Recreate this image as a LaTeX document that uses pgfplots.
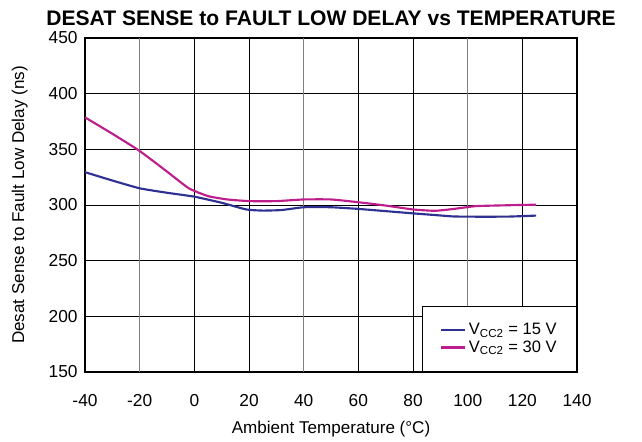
\documentclass[border=0pt]{standalone}
\usepackage{pgfplots}
\pgfplotsset{compat=1.18}
\usepackage{fontspec}
\setmainfont{Liberation Sans}
\definecolor{tiblue}{RGB}{46,49,146}
\definecolor{timag}{RGB}{190,30,140}
\begin{document}
\begin{tikzpicture}
\begin{axis}[
  scale only axis,
  width=369pt, height=250.5pt,
  xmin=-40, xmax=140, ymin=150, ymax=450,
  xtick={-40,0,20,60,80,120,140},
  extra x ticks={-20,40,100},
  extra x tick style={grid=major, major grid style={black!50, line width=0.7pt}},
  ytick={150,200,...,450},
  grid=major,
  major grid style={black, line width=0.55pt},
  major tick length=0pt,
  axis line style={black, line width=1.3pt},
  /pgf/number format/assume math mode=true,
  ticklabel style={font=\fontsize{13}{15}\selectfont},
  xticklabel style={yshift=-13pt},
  yticklabel style={xshift=-2pt},
  xlabel={Ambient Temperature (°C)},
  ylabel={Desat Sense to Fault Low Delay (ns)},
  label style={font=\fontsize{12.8}{15}\selectfont},
  xlabel style={yshift=-4.5pt},
  ylabel style={yshift=9pt},
  title={\textbf{DESAT SENSE to FAULT LOW DELAY vs TEMPERATURE}},
  title style={font=\fontsize{15.8}{17}\selectfont, yshift=0pt},
  legend style={at={(1,0)}, anchor=south east, draw=black, line width=0.6pt, fill=white,
    font=\fontsize{12.4}{13}\selectfont, inner xsep=13pt, inner ysep=11pt, row sep=-1pt,
    legend cell align=left},
  legend image code/.code={\draw[#1, line width=1.8pt] (0cm,0cm) -- (0.63cm,0cm);},
  clip=false,
]
\addplot[tiblue, line width=1.6pt, smooth, tension=0.3] coordinates {
(-40,329.5) (-30,322) (-20,315) (-10,311) (0,307.5) (10,302) (19,296) (25,295) (32,295.5) (40,298) (50,298) (60,296.5) (70,294.5) (80,292.5) (88,291) (95,289.7) (105,289.5) (115,289.6) (125,290.5)
};
\addlegendentry{V\textsubscript{CC2} = 15 V}
\addplot[timag, line width=1.6pt, smooth, tension=0.3] coordinates {
(-40,378.7) (-30,364) (-20,348.5) (-10,330) (-2,315) (5,308) (12,305) (20,303.5) (30,303.5) (40,305) (50,305) (60,302.5) (70,299.5) (80,296) (88,294.8) (95,296.5) (103,299) (115,299.8) (125,300.3)
};
\addlegendentry{V\textsubscript{CC2} = 30 V}
\path (rel axis cs:-0.1728,-0.2036) -- (rel axis cs:1.132,1.1138);
\end{axis}
\end{tikzpicture}
\end{document}
